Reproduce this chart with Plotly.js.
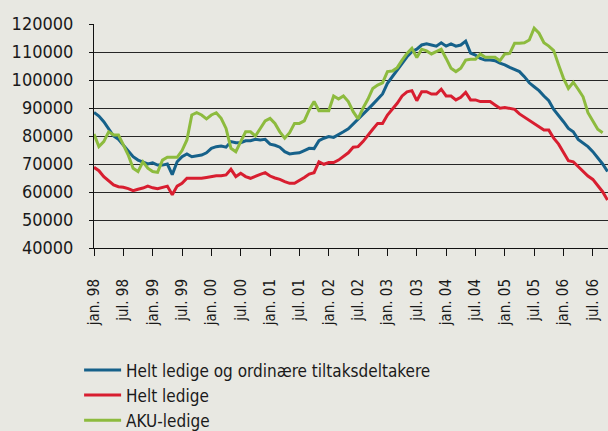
<!DOCTYPE html>
<html>
<head>
<meta charset="utf-8">
<script src="https://cdn.plot.ly/plotly-3.0.1.min.js"></script>
<style>
  html, body { margin: 0; padding: 0; background: #e8e8e2; }
  #chart { width: 608px; height: 431px; }
</style>
</head>
<body>
<div id="chart"></div>
<script>
// Monthly series, January 1998 onwards
const seriesNames = ["Helt ledige og ordinære tiltaksdeltakere", "Helt ledige", "AKU-ledige"];

const heltLedigeOgTiltak = [
  88400, 87100, 85100, 82700, 80000, 78800, 76800, 75000, 72600, 71400, 70600, 70000,
  70400, 69600, 69600, 70000, 66200, 70800, 72600, 73600, 72600, 72900, 73200, 74000,
  75600, 76200, 76400, 76000, 78000, 77600, 77600, 78300, 78300, 78800, 78600, 78800,
  77100, 76700, 76000, 74400, 73600, 73800, 74000, 74800, 75600, 75500, 78300, 79200,
  79800, 79500, 80400, 81500, 82600, 84300, 86000, 87500, 89500, 91300, 93100, 95000,
  98800, 101200, 103600, 106000, 108300, 110100, 111000, 112500, 112900, 112500, 112100, 113300,
  112100, 112900, 112100, 112500, 113900, 109600, 108900, 107700, 107100, 107100, 106900, 106000,
  105400, 104500, 103800, 103000, 101200, 99000, 97600, 96200, 94300, 92600, 89500, 87500,
  85100, 82700, 81500, 78800, 77600, 76200, 74400, 72400, 70000, 67300
];

const heltLedige = [
  68800, 67600, 65500, 64000, 62500, 61900, 61700, 61200, 60500, 61000, 61400, 62100,
  61500, 61200, 61700, 62100, 59000, 62100, 63100, 64900, 64900, 64800, 64900, 65200,
  65500, 65800, 65800, 66100, 68100, 65500, 66700, 65500, 64900, 65700, 66300, 66900,
  65700, 65000, 64500, 63700, 63100, 63100, 64000, 65200, 66400, 66900, 70800, 69900,
  70500, 70500, 71400, 72600, 74000, 76000, 76200, 78000, 80000, 82400, 84500, 84500,
  87500, 89500, 91700, 94300, 95800, 96200, 92600, 95800, 95800, 95000, 95000, 96700,
  94300, 94300, 92900, 93800, 95600, 92900, 92900, 92300, 92300, 92300, 91100, 89900,
  90200, 89900, 89500, 87900, 86700, 85700, 84500, 83300, 82100, 82100, 79200, 77100,
  74000, 71200, 70800, 69000, 67300, 65700, 64500, 62500, 60100, 57100
];

const akuLedige = [
  80700, 76200, 78000, 81500, 80400, 80400, 76800, 73200, 68500, 67300, 70800, 68500,
  67300, 67000, 71400, 72400, 72400, 72400, 74800, 78600, 87500, 88300, 87500, 86100,
  87500, 88300, 86300, 82700, 75600, 74400, 78000, 81500, 81500, 80000, 82700, 85400,
  86300, 84500, 81500, 79200, 81200, 84500, 84500, 85400, 89300, 92300, 89000, 89000,
  89000, 94300, 93200, 94300, 92300, 88700, 86100, 89900, 93100, 97000, 98200, 99000,
  103000, 103200, 104400, 107100, 109500, 111300, 108000, 111000, 110400, 109300, 110100, 111000,
  107700, 104200, 103000, 104200, 107100, 107400, 107400, 109300, 108100, 108100, 108100, 106900,
  109300, 109500, 113100, 113100, 113300, 114300, 118500, 116700, 113300, 112100, 110500, 105400,
  100600, 97000, 99200, 96700, 94000, 88300, 85100, 82400, 81200
];

const tickLabels = [
  "jan. 98", "jul. 98", "jan. 99", "jul. 99", "jan. 00", "jul. 00",
  "jan. 01", "jul. 01", "jan. 02", "jul. 02", "jan. 03", "jul. 03",
  "jan. 04", "jul. 04", "jan. 05", "jul. 05", "jan. 06", "jul. 06"
];

const colors = ["#16618a", "#d81e30", "#8dbb3e"];

// Month categories
const monthNames = ["jan","feb","mar","apr","mai","jun","jul","aug","sep","okt","nov","des"];
const months = [];
for (let k = 0; k < heltLedigeOgTiltak.length; k++) {
  const y = 1998 + Math.floor(k / 12);
  months.push(monthNames[k % 12] + ". " + String(y).slice(2));
}
const tickVals = months.filter(m => m.startsWith("jan") || m.startsWith("jul"));

const font = "'DejaVu Sans Condensed', 'Liberation Sans Narrow', 'DejaVu Sans', sans-serif";

const allSeries = [heltLedigeOgTiltak, heltLedige, akuLedige];
const traces = allSeries.map((vals, s) => ({
  type: "scatter",
  mode: "lines",
  name: seriesNames[s],
  x: months.slice(0, vals.length),
  y: vals,
  line: { color: colors[s], width: 3 },
  legendgroup: "g" + s
}));

const layout = {
  width: 608,
  height: 431,
  paper_bgcolor: "#e8e8e2",
  plot_bgcolor: "#e8e8e2",
  margin: { l: 94, r: 0, t: 24, b: 183, pad: 0, autoexpand: false },
  showlegend: true,
  xaxis: {
    type: "category",
    categoryorder: "array",
    categoryarray: months,
    range: [0, 105.1],
    tickmode: "array",
    tickvals: tickVals,
    ticktext: tickLabels,
    tickangle: -90,
    ticks: "outside",
    ticklen: 7,
    tickwidth: 1,
    tickcolor: "#111",
    ticklabelstandoff: 17,
    showgrid: false,
    showline: true,
    linecolor: "#111",
    linewidth: 1,
    automargin: false,
    tickfont: { family: font, size: 15, color: "#1a1a1a" },
    fixedrange: true
  },
  yaxis: {
    range: [40000, 120000],
    dtick: 10000,
    tick0: 40000,
    tickformat: "d",
    ticks: "outside",
    ticklen: 4,
    tickwidth: 1,
    tickcolor: "#111",
    ticklabelstandoff: 12,
    showgrid: true,
    gridcolor: "#262626",
    gridwidth: 1,
    zeroline: false,
    showline: true,
    linecolor: "#111",
    linewidth: 1,
    automargin: false,
    tickfont: { family: font, size: 18, color: "#1a1a1a" },
    fixedrange: true,
    layer: "below traces"
  },
  legend: {
    orientation: "v",
    x: -0.029,
    xanchor: "left",
    y: -0.466,
    yanchor: "top",
    bgcolor: "rgba(0,0,0,0)",
    borderwidth: 0,
    itemwidth: 37,
    tracegroupgap: 4,
    traceorder: "normal",
    font: { family: font, size: 17, color: "#1a1a1a" }
  }
};

Plotly.newPlot("chart", traces, layout, { staticPlot: true, displayModeBar: false });
</script>
</body>
</html>
